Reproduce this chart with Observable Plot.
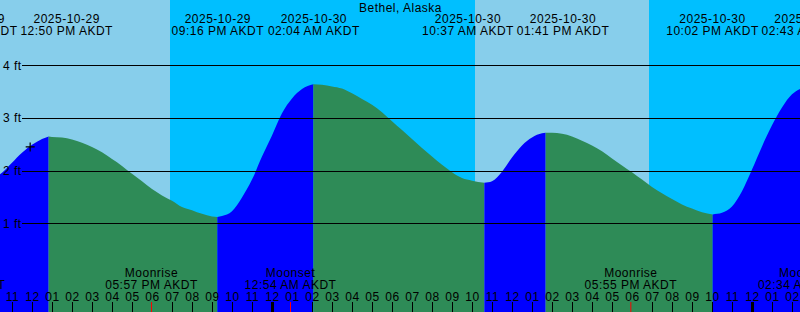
<!DOCTYPE html>
<html><head><meta charset="utf-8">
<script src="https://cdn.jsdelivr.net/npm/d3@7"></script>
<script src="https://cdn.jsdelivr.net/npm/@observablehq/plot@0.6"></script>
<style>
html,body{margin:0;padding:0;background:#fff;}
#chart svg{display:block;}
#chart svg text{letter-spacing:0.5px;}
</style></head><body><div id="chart"></div>
<script>
const title = "Bethel, Alaska";
const zoneName = "AKDT";
const viewStart = "2025-10-29T10:24";
const viewEnd = "2025-10-31T02:24";

// tide curve samples (local time, feet)
const tideTimes = [
"2025-10-29T09:50","2025-10-29T10:30","2025-10-29T11:00","2025-10-29T11:30","2025-10-29T12:00","2025-10-29T12:30","2025-10-29T12:50",
"2025-10-29T13:00","2025-10-29T13:30","2025-10-29T14:00","2025-10-29T14:30","2025-10-29T15:00","2025-10-29T15:30","2025-10-29T16:00",
"2025-10-29T16:30","2025-10-29T17:00","2025-10-29T17:30","2025-10-29T18:00","2025-10-29T18:30","2025-10-29T19:00","2025-10-29T19:30",
"2025-10-29T20:00","2025-10-29T20:30","2025-10-29T21:00","2025-10-29T21:16","2025-10-29T21:30","2025-10-29T22:00","2025-10-29T22:30",
"2025-10-29T23:00","2025-10-29T23:30","2025-10-30T00:00","2025-10-30T00:30","2025-10-30T01:00","2025-10-30T01:30","2025-10-30T02:04",
"2025-10-30T02:30","2025-10-30T03:00","2025-10-30T03:30","2025-10-30T04:00","2025-10-30T04:30","2025-10-30T05:00","2025-10-30T05:30",
"2025-10-30T06:00","2025-10-30T06:30","2025-10-30T07:00","2025-10-30T07:30","2025-10-30T08:00","2025-10-30T08:30","2025-10-30T09:00",
"2025-10-30T09:30","2025-10-30T10:00","2025-10-30T10:37","2025-10-30T11:00","2025-10-30T11:30","2025-10-30T12:00","2025-10-30T12:30",
"2025-10-30T13:00","2025-10-30T13:30","2025-10-30T13:41","2025-10-30T14:00","2025-10-30T14:30","2025-10-30T15:00","2025-10-30T15:30",
"2025-10-30T16:00","2025-10-30T16:30","2025-10-30T17:00","2025-10-30T17:30","2025-10-30T18:00","2025-10-30T18:30","2025-10-30T19:00",
"2025-10-30T19:30","2025-10-30T20:00","2025-10-30T20:30","2025-10-30T21:00","2025-10-30T21:30","2025-10-30T22:02","2025-10-30T22:30",
"2025-10-30T23:00","2025-10-30T23:30","2025-10-31T00:00","2025-10-31T00:30","2025-10-31T01:00","2025-10-31T01:30","2025-10-31T02:00",
"2025-10-31T02:30","2025-10-31T02:43"];
const tideFeet = [
1.80,1.96,2.15,2.34,2.49,2.60,2.65,
2.64,2.63,2.59,2.53,2.45,2.35,2.22,
2.09,1.94,1.80,1.65,1.53,1.43,1.31,
1.25,1.18,1.13,1.12,1.14,1.23,1.49,
1.83,2.27,2.67,3.09,3.37,3.55,3.64,
3.63,3.60,3.56,3.47,3.36,3.25,3.11,
2.94,2.77,2.60,2.43,2.27,2.11,1.97,
1.86,1.81,1.77,1.80,1.98,2.25,2.48,
2.63,2.71,2.72,2.72,2.70,2.65,2.57,
2.48,2.37,2.23,2.10,1.97,1.83,1.69,
1.57,1.46,1.36,1.28,1.21,1.17,1.20,
1.32,1.61,2.02,2.46,2.86,3.20,3.45,
3.57,3.60];

// high / low tide times (labelled on top)
const extremeTimes = ["2025-10-29T09:50","2025-10-29T12:50","2025-10-29T21:16","2025-10-30T02:04",
  "2025-10-30T10:37","2025-10-30T13:41","2025-10-30T22:02","2025-10-31T02:43"];

const sunTimes = ["2025-10-29T18:53","2025-10-30T10:08","2025-10-30T18:50"];
const sunKinds = ["set","rise","set"];

const moonTimes = ["2025-10-29T08:21","2025-10-29T17:57","2025-10-30T00:54","2025-10-30T17:55","2025-10-31T02:34"];
const moonNames = ["First Quarter","Moonrise","Moonset","Moonrise","Moonset"];

const nowTime = "2025-10-29T11:53";
const nowFeet = 2.46;

const gridFeet = [1, 2, 3, 4];
const yMin = -0.6835, yMax = 5.2405;

const colors = {day: "#87CEEB", night: "#00BFFF", rising: "#0000FF", falling: "#2E8B57"};

const parse = s => new Date(s + ":00Z");
const x0 = parse(viewStart), x1 = parse(viewEnd);
const W = 800, H = 312;
const xs = d3.scaleUtc([x0, x1], [0, W]);

function timeLabel(s) {
  const hh = +s.slice(11, 13), mm = s.slice(14, 16);
  const h12 = ((hh + 11) % 12) + 1;
  return String(h12).padStart(2, "0") + ":" + mm + (hh < 12 ? " AM " : " PM ") + zoneName;
}
function spread(px, minGap) {
  const p = px.slice();
  for (let i = 0; i < p.length - 1; i++) {
    const gap = p[i + 1] - p[i];
    if (gap < minGap) { const d = (minGap - gap) / 2; p[i] -= d; p[i + 1] += d; }
  }
  return p;
}

const tide = tideTimes.map((t, i) => ({t: parse(t), ft: tideFeet[i], key: t}));
// split into rising / falling segments at extremes
const extremeIdx = extremeTimes.map(e => tideTimes.indexOf(e)).filter(i => i >= 0);
const segments = [];
for (let k = 0; k < extremeIdx.length - 1; k++) {
  const pts = tide.slice(extremeIdx[k], extremeIdx[k + 1] + 1);
  segments.push({pts, color: pts[pts.length - 1].ft > pts[0].ft ? colors.rising : colors.falling});
}

// day/night intervals
const bounds = [x0, ...sunTimes.map(parse), x1];
const intervals = [];
for (let i = 0; i < bounds.length - 1; i++) {
  const isDay = i < sunKinds.length ? sunKinds[i] === "set" : sunKinds[sunKinds.length - 1] === "rise";
  intervals.push({a: bounds[i], b: bounds[i + 1], fill: isDay ? colors.day : colors.night});
}

// top labels with de-overlap
const topPx = spread(extremeTimes.map(s => xs(parse(s))), 95);
const topLabels = extremeTimes.map((s, i) => ({x: xs.invert(topPx[i]), date: s.slice(0, 10), time: timeLabel(s)}));

const moonPx = spread(moonTimes.map(s => xs(parse(s))), 95);
const moonLabels = moonTimes.map((s, i) => ({x: xs.invert(moonPx[i]), name: moonNames[i], time: timeLabel(s)}));
const moonDates = moonTimes.map(parse);

const hours = d3.utcHour.range(x0, x1);
const plainHours = hours.filter(h => h.getUTCHours() !== 0 && !moonDates.some(m => Math.abs(m - h) < 30 * 60000));
const midnights = hours.filter(h => h.getUTCHours() === 0);
const fmtHour = d3.utcFormat("%I");

const font = "Liberation Sans, Arial, sans-serif";
const chart = Plot.plot({
  width: W, height: H, margin: 0,
  x: {type: "utc", domain: [x0, x1], axis: null},
  y: {domain: [yMin, yMax], axis: null},
  color: {type: "identity"},
  style: {fontFamily: font, fontSize: "12px", background: "#fff"},
  marks: [
    Plot.rect(intervals, {x1: "a", x2: "b", y1: yMin, y2: yMax, fill: "fill", shapeRendering: "crispEdges"}),
    ...segments.map(s => Plot.areaY(s.pts, {x: "t", y1: yMin, y2: "ft", fill: s.color, curve: "monotone-x"})),
    Plot.ruleY(gridFeet, {y: d => d, insetLeft: 22, stroke: "black", strokeWidth: 1, shapeRendering: "crispEdges"}),
    Plot.text(gridFeet, {y: d => d, text: d => `${d} ft`, frameAnchor: "left", textAnchor: "start", dx: 2.5, fontSize: 12, fill: "black"}),
    Plot.text([title], {text: d => d, frameAnchor: "top", dy: 7.5, lineAnchor: "middle", fontSize: 12, fill: "black"}),
    Plot.text(topLabels, {x: "x", text: "date", frameAnchor: "top", dy: 19, lineAnchor: "middle", fontSize: 12, fill: "black"}),
    Plot.text(topLabels, {x: "x", text: "time", frameAnchor: "top", dy: 31, lineAnchor: "middle", fontSize: 12, fill: "black"}),
    Plot.text(moonLabels, {x: "x", text: "name", frameAnchor: "bottom", dy: -39, lineAnchor: "middle", fontSize: 12, fill: "black"}),
    Plot.text(moonLabels, {x: "x", text: "time", frameAnchor: "bottom", dy: -27, lineAnchor: "middle", fontSize: 12, fill: "black"}),
    Plot.text(hours, {x: d => d, text: d => fmtHour(d), frameAnchor: "bottom", dy: -15, lineAnchor: "middle", fontSize: 12, fill: "black"}),
    Plot.ruleX(plainHours, {x: d => d, insetTop: 302, stroke: "black", strokeWidth: 1}),
    Plot.ruleX(midnights, {x: d => d, insetTop: 302, stroke: "black", strokeWidth: 3}),
    Plot.ruleX(moonDates, {x: d => d, insetTop: 302, stroke: "red", strokeWidth: 1}),
    Plot.dot([{t: parse(nowTime), ft: nowFeet}], {x: "t", y: "ft", symbol: "plus", r: 3, stroke: "black", strokeWidth: 1.2})
  ]
});
document.getElementById("chart").appendChild(chart);
</script></body></html>
